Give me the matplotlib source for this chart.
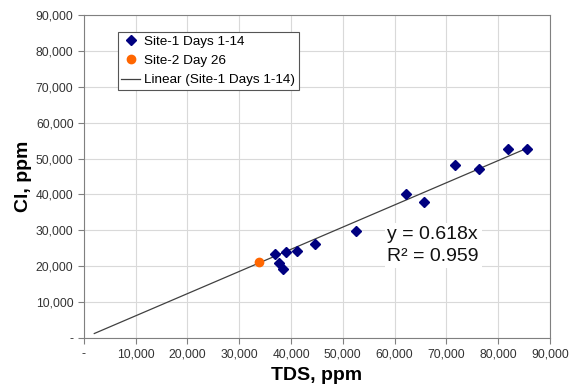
import numpy as np
import matplotlib
matplotlib.use("Agg")
import matplotlib.pyplot as plt
from matplotlib.ticker import FuncFormatter

plt.rcParams['font.family'] = ['Liberation Sans', 'DejaVu Sans']

# Site-1 Days 1-14 (TDS ppm, Cl ppm)
site1_tds = [36900, 37600, 38500, 39100, 41100, 44700, 52600,
             62300, 65700, 71700, 76400, 82000, 85500]
site1_cl = [23400, 20900, 19300, 23900, 24200, 26200, 29900,
            40100, 37800, 48300, 47100, 52600, 52600]
# Site-2 Day 26
site2_tds = [33800]
site2_cl = [21100]
# linear trendline through origin
slope = 0.618
r2 = 0.959
trend_x = [2000, 85500]


def thousands(v, pos):
    if v == 0:
        return "-"
    return f"{int(v):,}"


fig = plt.figure(figsize=(5.71, 3.88), dpi=100)
ax = fig.add_axes([0.147, 0.129, 0.816, 0.832])

tx = np.array(trend_x)
ax.plot(tx, slope * tx, color="#404040", lw=0.9, label="Linear (Site-1 Days 1-14)", zorder=2)
ax.plot(site1_tds, site1_cl, ls="none", marker="D", ms=5.3, color="#000080",
        label="Site-1 Days 1-14", zorder=3)
ax.plot(site2_tds, site2_cl, ls="none", marker="o", ms=6, color="#FF6600",
        label="Site-2 Day 26", zorder=3)

ax.set_xlim(0, 90000)
ax.set_ylim(0, 90000)
ax.set_xticks(np.arange(0, 90001, 10000))
ax.set_yticks(np.arange(0, 90001, 10000))
ax.xaxis.set_major_formatter(FuncFormatter(thousands))
ax.yaxis.set_major_formatter(FuncFormatter(thousands))
ax.tick_params(labelsize=8.7, labelcolor="#333333", color="#808080", length=4, width=0.8)
ax.grid(True, color="#D9D9D9", lw=0.8)
ax.set_axisbelow(True)
for s in ax.spines.values():
    s.set_color("#808080")
    s.set_linewidth(0.8)

ax.set_xlabel("TDS, ppm", fontsize=14, fontweight="bold", labelpad=5)
ax.set_ylabel("Cl, ppm", fontsize=14, fontweight="bold", labelpad=3)

ax.text(58600, 25800, f"y = {slope}x\nR\u00b2 = {r2}", fontsize=14, va="center", ha="left",
        linespacing=1.4, color="#111111",
        bbox=dict(facecolor="white", edgecolor="none", pad=2))

handles, labels = ax.get_legend_handles_labels()
order = [1, 2, 0]
leg = ax.legend([handles[i] for i in order], [labels[i] for i in order],
                loc="upper left", bbox_to_anchor=(0.073, 0.947), borderaxespad=0,
                fontsize=9.7, fancybox=False, framealpha=1, edgecolor="#555555",
                handlelength=1.4, handletextpad=0.3, borderpad=0.25, labelspacing=0.5)
leg.get_frame().set_linewidth(0.8)

fig.savefig("out.png", dpi=100)
